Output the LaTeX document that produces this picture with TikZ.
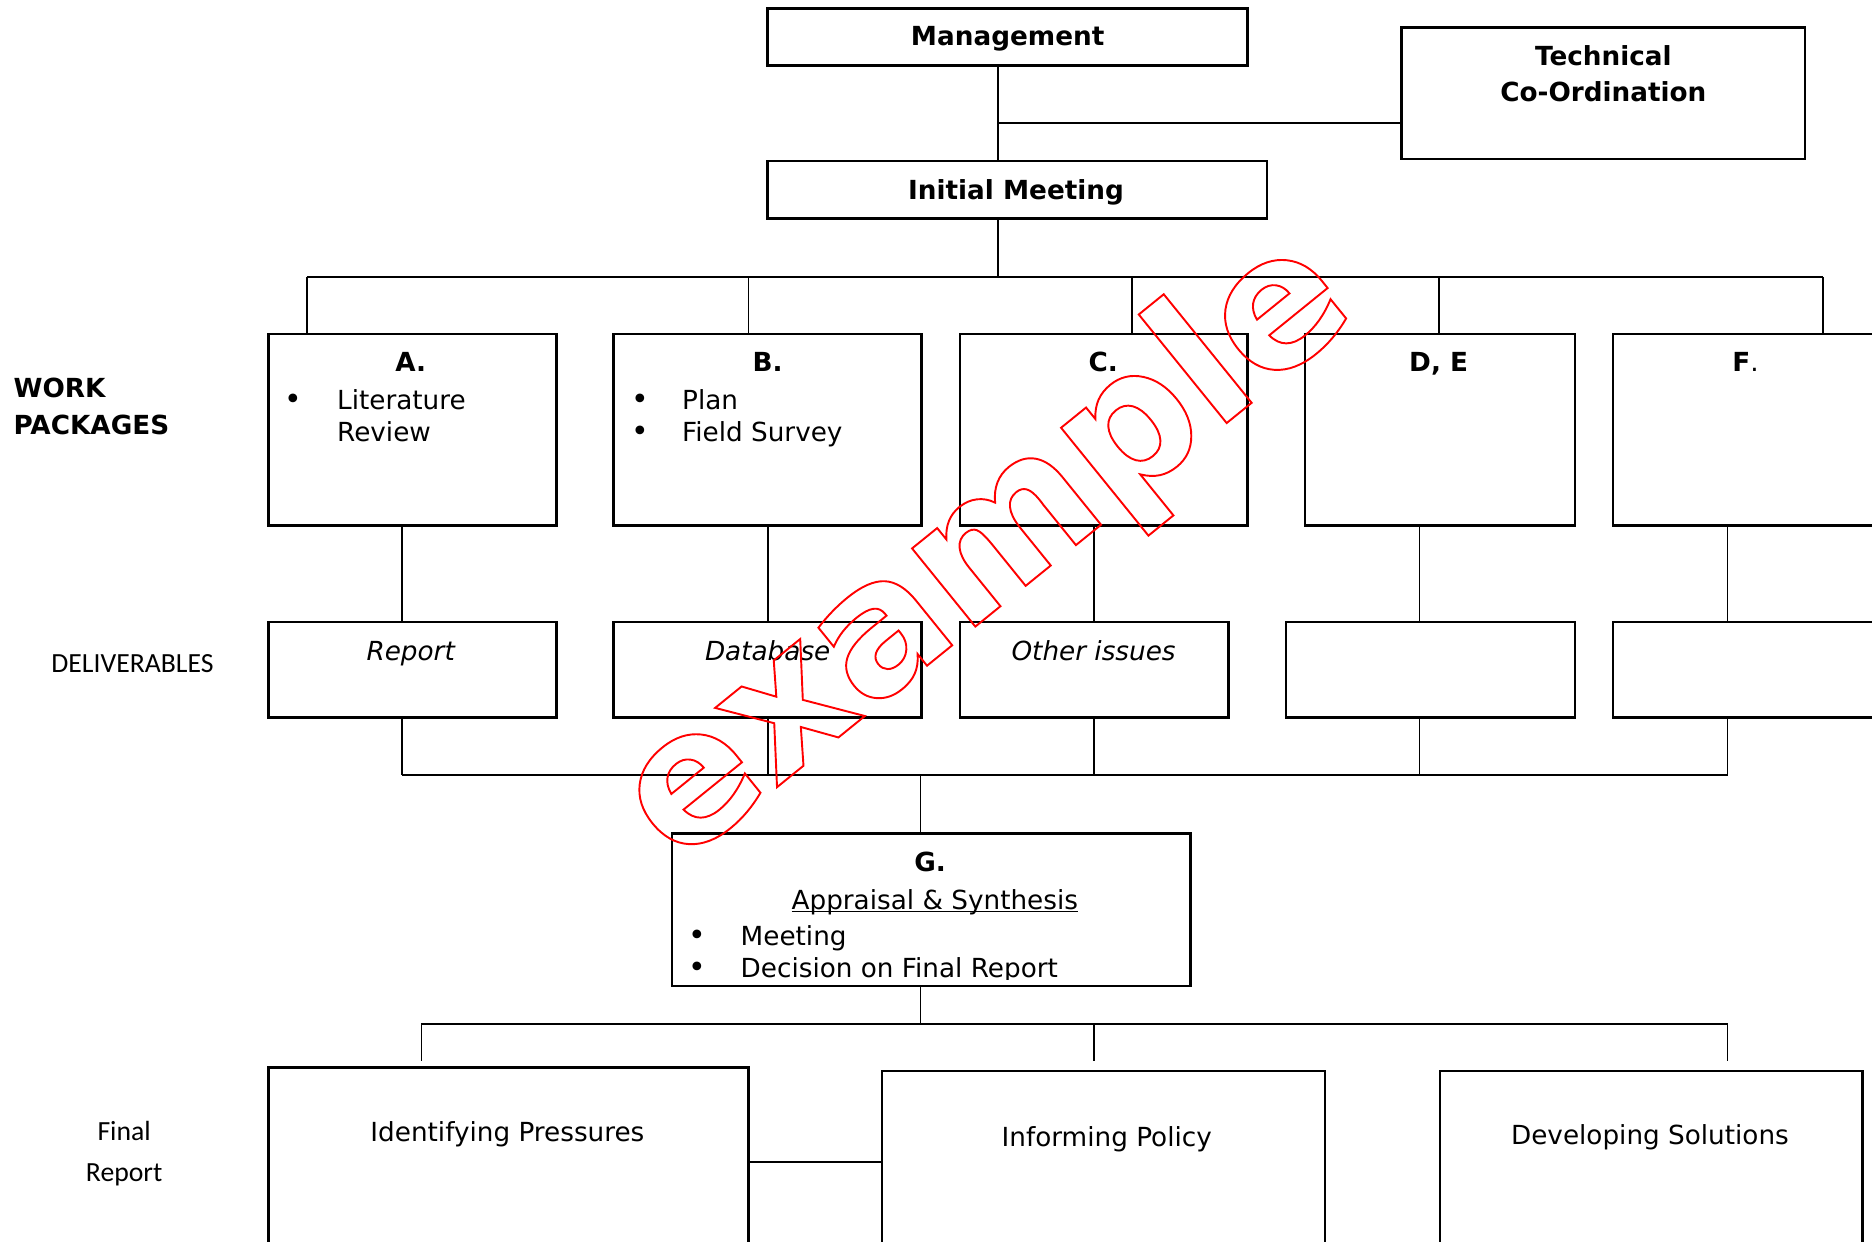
\documentclass[tikz,border=0pt]{standalone}
\usepackage{fontspec}
\setmainfont{DejaVu Sans}
\newfontfamily\calfont{Carlito}
\usetikzlibrary{fit}
\newcommand\lowline[1]{\setbox0\hbox{#1}\rlap{\rule[-1.3pt]{\wd0}{0.55pt}}\box0}
\newcommand\dotmark{{\fontsize{12.5}{12.5}\selectfont\textbullet}}

\begin{document}
\begin{tikzpicture}[x=0.5pt,y=-0.5pt,
  wpbox/.style={draw,line width=1pt,inner sep=0pt},
  link/.style={line width=0.75pt},
  txt/.style={inner sep=0pt,anchor=base,font=\fontsize{11}{13.5}\selectfont},
  head/.style={txt,font=\fontsize{11}{13.5}\selectfont\bfseries},
  deliv/.style={txt,font=\fontsize{11}{13.5}\selectfont\itshape},
  side/.style={inner sep=0pt,anchor=base,font=\calfont\fontsize{11.6}{14}\selectfont}]
\useasboundingbox (0,0) rectangle (1568,1040);
\clip (0,0) rectangle (1568,1040);

% boxes
\node[wpbox,fit={(643,7) (1045,55)}] (mgmt) {};
\node[wpbox,fit={(1174,23) (1512,133)}] (tech) {};
\node[wpbox,fit={(643,135) (1061,183)}] (init) {};
\foreach \n/\xa/\xb in {A/225/466,B/514/772,C/804/1045,D/1093/1319,F/1351/1600}
  \node[wpbox,fit={(\xa,280) (\xb,440)}] (wp\n) {};
\foreach \n/\xa/\xb in {A/225/466,B/514/772,C/804/1029,D/1077/1319,F/1351/1600}
  \node[wpbox,fit={(\xa,521) (\xb,601)}] (dl\n) {};
\node[wpbox,fit={(563,698) (997,826)}] (synth) {};
\node[wpbox,fit={(225,894) (627,1070)}] (press) {};
\node[wpbox,fit={(739,897) (1110,1070)}] (policy) {};
\node[wpbox,fit={(1206,897) (1560,1070)}] (solve) {};

% connectors
\coordinate (spine) at (836,232);
\coordinate (techjoin) at (836,103);
\draw[link] (mgmt.south -| spine) -- (init.north -| spine);
\draw[link] (techjoin) -- (techjoin -| tech.west);
\draw[link] (init.south -| spine) -- (spine);
\coordinate (busL) at (257,232);
\coordinate (busR) at (1527,232);
\draw[link] (busL) -- (busR);
\foreach \n/\x in {A/257,B/627,C/948,D/1205,F/1527}
  \draw[link] (\x,232) -- (wp\n.north -| \x,0);
\foreach \n/\x in {A/337,B/643,C/916,D/1189,F/1447}{
  \draw[link] (wp\n.south -| \x,0) -- (dl\n.north -| \x,0);
  \draw[link] (dl\n.south -| \x,0) -- (\x,649);
}
\coordinate (joinL) at (337,649);
\coordinate (joinR) at (1447,649);
\draw[link] (joinL) -- (joinR);
\coordinate (gjoin) at (771,649);
\draw[link] (gjoin) -- (synth.north -| gjoin);
\coordinate (outjoin) at (771,858);
\draw[link] (synth.south -| outjoin) -- (outjoin);
\draw[link] (353,858) -- (1447,858);
\draw[link,shorten >=2pt] (353,858) -- (press.north -| 353,0);
\draw[link,shorten >=3.5pt] (916,858) -- (policy.north -| 916,0);
\draw[link,shorten >=3.5pt] (1447,858) -- (solve.north -| 1447,0);
\draw[link] (press.east |- 0,973) -- (policy.west |- 0,973);

% texts
\node[head] (tmgmt) at (844,38) {Management};
\node[head] (ttech1) at (1343,54.5) {Technical};
\node[head] (ttech2) at (1343,85) {Co-Ordination};
\node[head] (tinit) at (851,167.5) {Initial Meeting};
\foreach \n/\x/\t in {A/344/A.,B/643/B.,C/924/C.,D/1205/{D, E}}
  \node[head] (t\n) at (\x,311) {\t};
\node[txt] (tF) at (1462,311) {{\bfseries F}.};
\foreach \x/\y in {246/343,536/343,536/370}
  \node[txt] at (\x,\y) {\dotmark};
\foreach \x/\y/\t in {282/343/Literature,282/370/Review,571/343/Plan,571/370/Field Survey}
  \node[txt,anchor=base west] at (\x,\y) {\t};
\node[deliv] (rA) at (344,553) {Report};
\node[deliv] (rB) at (643,553) {Database};
\node[deliv] (rC) at (916,553) {Other issues};

\node[head] (tG) at (779,730) {G.};
\node[txt] (tapp) at (783,761.5) {\lowline{Appraisal \& Synthesis}};
\node[txt] (bG1) at (584,792) {\dotmark};
\node[txt,anchor=base west] (lG1) at (620,792) {Meeting};
\begin{scope}
  \clip (563,698) rectangle (997,820);
  \node[txt] (bG2) at (584,819) {\dotmark};
  \node[txt,anchor=base west] (lG2) at (620,819) {Decision on Final Report};
\end{scope}

\node[txt] (tpress) at (425,956) {Identifying Pressures};
\node[txt] (tpolicy) at (927,960) {Informing Policy};
\node[txt] (tsolve) at (1382,959) {Developing Solutions};

% side labels
\node[head,anchor=base west] (work) at (11,333) {WORK};
\node[head,anchor=base west] (pack) at (11,364) {PACKAGES};
\node[side] (deliverables) at (111,563) {DELIVERABLES};
\node[side] (final1) at (104,955) {Final};
\node[side] (final2) at (104,990) {Report};

% stamp
\node[rotate=39,text=red,inner sep=0pt,font=\fontsize{77}{77}\selectfont\bfseries] (stamp) at (827,462)
  {\special{pdf:code 1 Tr 0.8 w}example\special{pdf:code 0 Tr}};
\end{tikzpicture}
\end{document}
